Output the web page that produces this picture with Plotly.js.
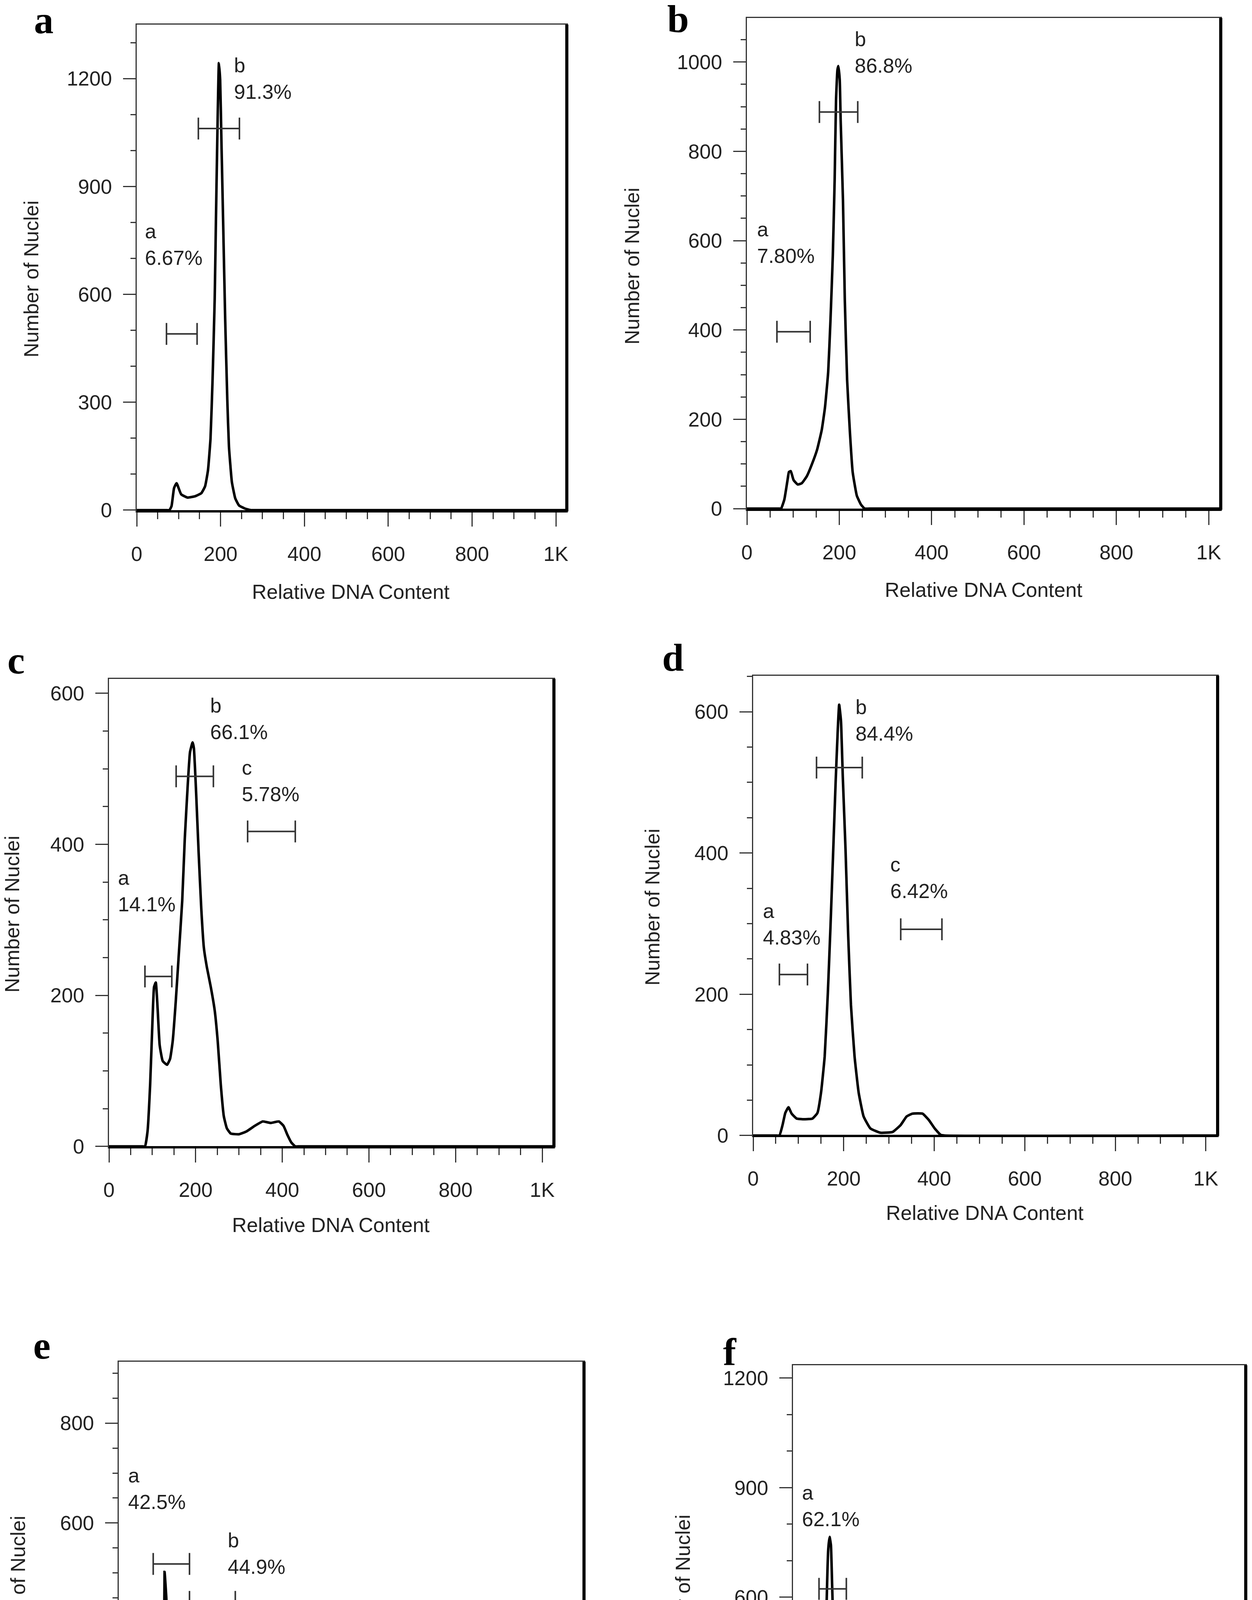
<!DOCTYPE html>
<html>
<head>
<meta charset="utf-8">
<script src="https://cdn.plot.ly/plotly-3.0.1.min.js"></script>
<style>body{margin:0;background:#fff}</style>
</head>
<body>
<div id="fig" style="width:3205px;height:4908px"></div>
<script>
'use strict';

// histograms: relative DNA content (channel) vs number of nuclei
var dnaA = [0, 70, 78, 83, 89, 95, 106, 121, 140, 154, 163, 170, 176, 181, 186, 189, 193, 196, 199, 202, 206, 211, 216, 220, 227, 235, 244, 259, 273, 290, 1024];
var nucA = [0, 0, 0, 11, 61, 75, 44, 35, 39, 47, 66, 111, 199, 366, 587, 809, 1086, 1243, 1197, 1030, 809, 532, 310, 177, 78, 33, 13, 4, 0, 0, 0];

var dnaB = [0, 70, 74, 81, 88, 91, 95, 101, 110, 119, 130, 141, 152, 162, 169, 176, 181, 186, 190, 193, 196, 198, 201, 203, 208, 212, 217, 223, 229, 238, 247, 255, 265, 1024];
var nucB = [0, 0, 0, 20, 64, 82, 84, 64, 54, 57, 73, 100, 132, 176, 226, 306, 423, 566, 736, 915, 982, 991, 960, 870, 691, 467, 288, 172, 82, 29, 9, 0, 0, 0];

var dnaC = [0, 75, 83, 89, 95, 100, 104, 108, 112, 117, 124, 134, 141, 147, 154, 161, 169, 175, 182, 187, 193, 196, 201, 207, 213, 219, 226, 235, 244, 251, 258, 265, 272, 281, 300, 318, 336, 355, 373, 392, 403, 412, 421, 430, 440, 1024];
var nucC = [0, 0, 0, 20, 82, 160, 211, 217, 185, 134, 113, 108, 116, 139, 191, 253, 325, 408, 481, 522, 535, 527, 470, 388, 315, 263, 237, 211, 180, 139, 82, 40, 24, 17, 16, 20, 27, 33, 31, 33, 27, 15, 5, 0, 0, 0];

var dnaD = [0, 50, 58, 65, 71, 78, 85, 96, 113, 131, 142, 150, 158, 165, 171, 177, 182, 187, 190, 194, 198, 204, 210, 216, 224, 233, 244, 259, 281, 308, 326, 339, 352, 374, 388, 401, 414, 423, 1024];
var nucD = [0, 0, 0, 15, 32, 40, 31, 24, 23, 24, 32, 61, 112, 202, 299, 406, 497, 576, 610, 587, 508, 406, 282, 185, 112, 61, 27, 10, 4, 5, 15, 27, 31, 31, 22, 10, 1, 0, 0];

var dnaE = [0, 75, 81, 88, 92, 96, 99, 101, 105, 107, 111, 114, 120, 129, 141, 150, 157, 164, 172, 178, 184, 191, 197, 204, 210, 217, 226, 239, 252, 266, 279, 292, 310, 319, 329, 345, 358, 371, 382, 393, 406, 415, 424, 1024];
var nucE = [0, 0, 0, 48, 128, 327, 231, 502, 447, 303, 223, 175, 152, 132, 120, 104, 92, 104, 128, 167, 199, 211, 199, 183, 159, 128, 92, 62, 52, 36, 24, 18, 16, 20, 16, 24, 30, 32, 28, 16, 6, 2, 0, 0];

var dnaF = [0, 52, 59, 65, 69, 73, 76, 80, 83, 86, 89, 93, 98, 105, 112, 121, 130, 144, 157, 171, 185, 194, 203, 216, 225, 235, 244, 253, 262, 1024];
var nucF = [0, 0, 0, 22, 131, 350, 568, 732, 765, 743, 623, 459, 328, 240, 186, 148, 131, 115, 107, 106, 111, 109, 93, 66, 38, 19, 5, 0, 0, 0];

// gates: name, low channel, high channel, marker level, percentage
var gatesA = [['a', 71, 144, 490, '6.67%'], ['b', 147, 245, 1061, '91.3%']];
var gatesB = [['a', 65, 137, 396, '7.80%'], ['b', 157, 240, 888, '86.8%']];
var gatesC = [['a', 83, 145, 225, '14.1%'], ['b', 155, 241, 490, '66.1%'], ['c', 320, 430, 417, '5.78%']];
var gatesD = [['a', 58, 120, 228, '4.83%'], ['b', 140, 241, 521, '84.4%'], ['c', 326, 417, 292, '6.42%']];
var gatesE = [['a', 76, 156, 518, '42.5%'], ['b', 156, 257, 442, '44.9%'], ['c', 325, 418, 235, '6.32%']];
var gatesF = [['a', 59, 121, 623, '62.1%'], ['b', 165, 235, 300, '18.8%']];

var xTickVals = [0, 200, 400, 600, 800, 1000];
var xTickText = ['0', '200', '400', '600', '800', '1K'];

var panelLetters = ['a', 'b', 'c', 'd', 'e', 'f'];

// ---- layout constants (page pixels) ----
var W = 3205, H = 4908;
var boxes = [ // left, right, top, bottom
	[350, 1451, 63, 1309],
	[1912, 3125, 46, 1305],
	[279, 1418, 1738, 2937],
	[1928, 3117, 1730, 2908],
	[304, 1495, 3486, 4667],
	[2030, 3189, 3495, 4651]
];
var xMax = [1026, 1026, 1027, 1026, 1026, 1027];
var yRange = [[-3.3, 1350], [-2.6, 1098.6], [-1.2, 619], [-0.6, 651], [-1, 923], [-1, 1235]];
var yStep = [300, 200, 200, 200, 200, 300];
var yMinor = [100, 50, 50, 50, 50, 100];
// label block centres (data units) for each gate
var labelPos = [
	[[18, 739], [230, 1200]],
	[[20, 596], [232, 1022]],
	[[19, 338], [232, 566], [305, 484]],
	[[20, 299], [224, 588], [301, 365]],
	[[19, 669], [239, 539], [301, 339]],
	[[19, 850], [235, 433]]
];
// panel letter, y title, x title positions in page px
var letterPos = [[112, 51], [1736, 48], [41, 1690], [1723, 1683], [107, 3445], [1868, 3462]];
var yTitlePos = [[80, 714], [1618, 681], [31, 2340], [1670, 2322], [46, 4081], [1748, 4078]];
var xTitlePos = [[898, 1515], [2518, 1510], [847, 3136], [2521, 3105], [898, 4866], [2608, 4840]];

var dna = [dnaA, dnaB, dnaC, dnaD, dnaE, dnaF];
var nuc = [nucA, nucB, nucC, nucD, nucE, nucF];
var gates = [gatesA, gatesB, gatesC, gatesD, gatesE, gatesF];

var sans = 'Liberation Sans, Arial, sans-serif';
var ink = '#222';

var traces = [];
var layout = {
	width: W, height: H,
	margin: {l: 0, r: 0, t: 0, b: 0},
	paper_bgcolor: '#fff', plot_bgcolor: '#fff',
	showlegend: false,
	font: {family: sans, size: 52, color: ink},
	annotations: [],
	shapes: []
};

function px(x) { return x / W; }
function py(y) { return 1 - y / H; }

for (var i = 0; i < 6; i++) {
	var s = i === 0 ? '' : String(i + 1);
	var xa = 'x' + s, ya = 'y' + s;
	var b = boxes[i];

	traces.push({
		x: dna[i], y: nuc[i], xaxis: xa, yaxis: ya,
		type: 'scatter', mode: 'lines',
		line: {color: '#000', width: 6.5, shape: 'spline', smoothing: 0.4},
		hoverinfo: 'skip'
	});

	gates[i].forEach(function (g, k) {
		traces.push({
			x: [g[1], g[2]], y: [g[3], g[3]], xaxis: xa, yaxis: ya,
			type: 'scatter', mode: 'lines+markers',
			line: {color: '#333', width: 4},
			marker: {symbol: 'line-ns', size: 40, line: {color: '#333', width: 4}},
			hoverinfo: 'skip'
		});
		var lp = labelPos[i][k];
		layout.annotations.push({
			xref: xa, yref: ya, x: lp[0], y: lp[1],
			xanchor: 'left', yanchor: 'middle', align: 'left',
			text: g[0] + '<br>' + g[4], showarrow: false,
			font: {family: sans, size: 52, color: ink}
		});
	});

	layout['xaxis' + s] = {
		domain: [px(b[0]), px(b[1])], anchor: ya,
		range: [0, xMax[i]], fixedrange: true,
		showgrid: false, zeroline: false,
		showline: true, linecolor: '#333', linewidth: 3, mirror: true,
		ticks: 'outside', ticklen: 36, tickwidth: 3, tickcolor: '#333',
		tickmode: 'array', tickvals: xTickVals, ticktext: xTickText,
		ticklabelstandoff: 26,
		minor: {ticks: 'outside', ticklen: 17, tickwidth: 3, tickcolor: '#333', dtick: 50, tick0: 0},
		tickfont: {family: sans, size: 52, color: ink}
	};
	layout['yaxis' + s] = {
		domain: [py(b[3]), py(b[2])], anchor: xa,
		range: yRange[i], fixedrange: true,
		showgrid: false, zeroline: false,
		showline: true, linecolor: '#333', linewidth: 3, mirror: true,
		ticks: 'outside', ticklen: 32, tickwidth: 3, tickcolor: '#333',
		tickmode: 'linear', tick0: 0, dtick: yStep[i],
		ticklabelstandoff: 18,
		minor: {ticks: 'outside', ticklen: 13, tickwidth: 3, tickcolor: '#333', dtick: yMinor[i], tick0: 0},
		tickfont: {family: sans, size: 52, color: ink}
	};

	// heavy right and bottom edge of each frame
	layout.shapes.push({type: 'line', xref: xa + ' domain', yref: ya + ' domain',
		x0: 1, x1: 1, y0: 0, y1: 1, line: {color: '#000', width: 8}});
	layout.shapes.push({type: 'line', xref: xa + ' domain', yref: ya + ' domain',
		x0: 0, x1: 1, y0: 0, y1: 0, line: {color: '#000', width: 6}});

	layout.annotations.push({
		xref: 'paper', yref: 'paper', x: px(letterPos[i][0]), y: py(letterPos[i][1]),
		xanchor: 'center', yanchor: 'middle', showarrow: false,
		text: '<b>' + panelLetters[i] + '</b>',
		font: {family: 'Liberation Serif, Times New Roman, serif', size: 100, color: '#000'}
	});
	layout.annotations.push({
		xref: 'paper', yref: 'paper', x: px(yTitlePos[i][0]), y: py(yTitlePos[i][1]),
		xanchor: 'center', yanchor: 'middle', showarrow: false, textangle: -90,
		text: 'Number of Nuclei', font: {family: sans, size: 52, color: ink}
	});
	layout.annotations.push({
		xref: 'paper', yref: 'paper', x: px(xTitlePos[i][0]), y: py(xTitlePos[i][1]),
		xanchor: 'center', yanchor: 'middle', showarrow: false,
		text: 'Relative DNA Content', font: {family: sans, size: 52, color: ink}
	});
}

Plotly.newPlot('fig', traces, layout, {displayModeBar: false, responsive: false});
</script>
</body>
</html>
